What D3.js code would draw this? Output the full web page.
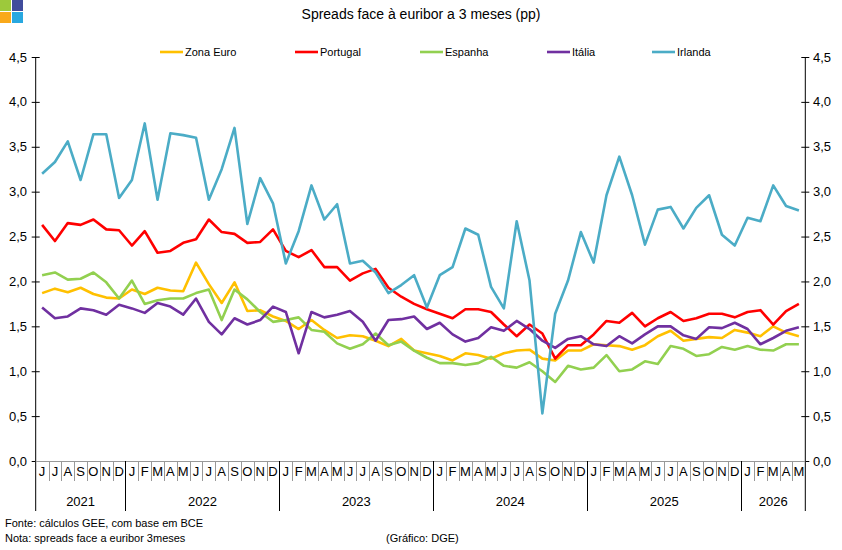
<!DOCTYPE html>
<meta charset="utf-8">
<style>

body {
  margin: 0;
  font: 11px "Liberation Sans", Arial, sans-serif;
  background: #fff;
}

.line {
  fill: none;
  stroke-width: 2.6;
  stroke-linejoin: round;
}

.lbl {
  font-size: 13px;
  fill: #000;
}

</style>
<body>
<script src="https://cdnjs.cloudflare.com/ajax/libs/d3/7.8.5/d3.min.js"></script>
<script>

// meses de Jun 2021 a Mai 2026
var months = ["J","J","A","S","O","N","D",
  "J","F","M","A","M","J","J","A","S","O","N","D",
  "J","F","M","A","M","J","J","A","S","O","N","D",
  "J","F","M","A","M","J","J","A","S","O","N","D",
  "J","F","M","A","M","J","J","A","S","O","N","D",
  "J","F","M","A","M"];

var years = ["2021", "2022", "2023", "2024", "2025", "2026"];
var monthsPerYear = [7, 12, 12, 12, 12, 5];

var yTicks = [0, 0.5, 1, 1.5, 2, 2.5, 3, 3.5, 4, 4.5];

var zonaEuro = [1.87,1.92,1.88,1.93,1.86,1.82,1.81,1.91,1.86,1.93,1.90,1.89,2.21,1.97,1.76,1.99,1.67,1.68,1.61,1.56,
  1.47,1.57,1.46,1.37,1.40,1.39,1.34,1.28,1.36,1.23,1.20,1.17,1.12,1.20,1.18,1.14,1.20,1.23,1.24,1.14,
  1.12,1.23,1.23,1.30,1.29,1.28,1.24,1.29,1.39,1.45,1.34,1.36,1.38,1.37,1.46,1.43,1.39,1.50,1.43,1.39];

var portugal = [2.63,2.45,2.65,2.63,2.69,2.58,2.57,2.40,2.56,2.32,2.34,2.43,2.47,2.69,2.55,2.53,2.43,2.44,2.58,2.34,
  2.27,2.35,2.16,2.16,2.01,2.09,2.14,1.93,1.83,1.75,1.69,1.64,1.59,1.69,1.69,1.66,1.52,1.39,1.52,1.42,
  1.14,1.29,1.29,1.41,1.56,1.54,1.65,1.50,1.59,1.66,1.56,1.59,1.64,1.64,1.60,1.66,1.68,1.52,1.67,1.75];

var espanha = [2.07,2.10,2.02,2.03,2.10,1.99,1.81,2.01,1.75,1.79,1.81,1.81,1.87,1.91,1.57,1.91,1.80,1.66,1.55,1.57,
  1.60,1.46,1.44,1.31,1.25,1.30,1.42,1.29,1.33,1.23,1.15,1.09,1.09,1.07,1.09,1.16,1.06,1.04,1.10,1.00,
  0.88,1.06,1.02,1.04,1.18,1.00,1.02,1.11,1.08,1.28,1.25,1.17,1.19,1.27,1.24,1.28,1.24,1.23,1.30,1.30];

var italia = [1.71,1.59,1.61,1.70,1.68,1.63,1.74,1.70,1.65,1.76,1.72,1.63,1.81,1.55,1.41,1.59,1.52,1.57,1.72,1.66,
  1.20,1.66,1.60,1.63,1.67,1.55,1.34,1.57,1.58,1.61,1.47,1.54,1.41,1.33,1.37,1.49,1.45,1.56,1.47,1.34,
  1.26,1.36,1.39,1.30,1.28,1.39,1.31,1.41,1.50,1.50,1.40,1.36,1.49,1.48,1.54,1.47,1.30,1.37,1.45,1.49];

var irlanda = [3.20,3.33,3.56,3.13,3.64,3.64,2.93,3.13,3.76,2.91,3.65,3.63,3.60,2.91,3.25,3.71,2.64,3.15,2.87,2.20,
  2.56,3.07,2.69,2.86,2.20,2.23,2.10,1.87,1.96,2.07,1.71,2.07,2.16,2.59,2.52,1.94,1.70,2.67,2.01,0.53,
  1.64,2.01,2.55,2.21,2.96,3.39,2.96,2.41,2.80,2.83,2.59,2.82,2.96,2.52,2.40,2.71,2.67,3.07,2.84,2.79];

var seriesNames = ["Zona Euro", "Portugal", "Espanha", "Itália", "Irlanda"];
var seriesColors = ["#FFC000", "#FF0000", "#92D050", "#7030A0", "#4BACC6"];
var seriesValues = [zonaEuro, portugal, espanha, italia, irlanda];

var width = 842, height = 550;
var plotLeft = 35.7, plotRight = 805.3, plotTop = 57, plotBottom = 461;

var svg = d3.select("body").append("svg")
    .attr("width", width)
    .attr("height", height);

// logo
var logo = [["#9DC93B", 0, 0], ["#404C9C", 12, 0], ["#F9A91B", 0, 12], ["#28A8E0", 12, 12]];
svg.selectAll(".logo")
    .data(logo)
  .enter().append("rect")
    .attr("x", function(d) { return d[1] })
    .attr("y", function(d) { return d[2] })
    .attr("width", 11)
    .attr("height", 11)
    .attr("fill", function(d) { return d[0] });

svg.append("text")
    .attr("x", 421)
    .attr("y", 19)
    .attr("text-anchor", "middle")
    .style("font-size", "14px")
    .text("Spreads face à euribor a 3 meses (pp)");

var x = d3.scaleBand()
    .domain(d3.range(months.length))
    .range([plotLeft, plotRight]);

var y = d3.scaleLinear()
    .domain([0, 4.5])
    .range([plotBottom, plotTop]);

var fmt = function(d) { return d3.format(".1f")(d).replace(".", ",") };

// eixos verticais
[plotLeft, plotRight].forEach(function(px, k) {
  svg.append("line")
      .attr("x1", px).attr("x2", px)
      .attr("y1", plotTop).attr("y2", 511)
      .attr("stroke", "#000");

  svg.selectAll(".tick" + k)
      .data(yTicks)
    .enter().append("line")
      .attr("x1", px - 4).attr("x2", px + 4)
      .attr("y1", function(d) { return y(d) + 0.5 })
      .attr("y2", function(d) { return y(d) + 0.5 })
      .attr("stroke", "#000");

  svg.selectAll(".ylab" + k)
      .data(yTicks)
    .enter().append("text")
      .attr("class", "lbl")
      .attr("x", k == 0 ? 27 : 813)
      .attr("y", function(d) { return y(d) })
      .attr("dy", "0.35em")
      .attr("text-anchor", k == 0 ? "end" : "start")
      .text(fmt);
});

// linha do zero
svg.append("line")
    .attr("x1", plotLeft).attr("x2", plotRight)
    .attr("y1", plotBottom + 0.5).attr("y2", plotBottom + 0.5)
    .attr("stroke", "#999");

// divisões dos meses
svg.selectAll(".mdiv")
    .data(d3.range(1, months.length))
  .enter().append("line")
    .attr("x1", function(i) { return Math.round(x(i)) + 0.5 })
    .attr("x2", function(i) { return Math.round(x(i)) + 0.5 })
    .attr("y1", plotBottom)
    .attr("y2", 481)
    .attr("stroke", "#999");

svg.selectAll(".mlab")
    .data(months)
  .enter().append("text")
    .attr("class", "lbl")
    .attr("x", function(d, i) { return x(i) + x.bandwidth() / 2 })
    .attr("y", 476)
    .attr("text-anchor", "middle")
    .text(function(d) { return d });

// anos
var yearStart = [];
monthsPerYear.reduce(function(acc, n) { yearStart.push(acc); return acc + n }, 0);

svg.selectAll(".ydiv")
    .data(yearStart.slice(1))
  .enter().append("line")
    .attr("x1", function(i) { return Math.round(x(i)) + 0.5 })
    .attr("x2", function(i) { return Math.round(x(i)) + 0.5 })
    .attr("y1", plotBottom)
    .attr("y2", 511)
    .attr("stroke", "#000");

svg.selectAll(".ylabel")
    .data(years)
  .enter().append("text")
    .attr("class", "lbl")
    .attr("x", function(d, k) {
      var a = x(yearStart[k]), b = x(yearStart[k] + monthsPerYear[k] - 1) + x.bandwidth();
      return (a + b) / 2;
    })
    .attr("y", 506)
    .attr("text-anchor", "middle")
    .text(function(d) { return d });

// séries
var line = d3.line()
    .x(function(d, i) { return x(i) + x.bandwidth() / 2 })
    .y(function(d) { return y(d) });

svg.selectAll(".line")
    .data(seriesValues)
  .enter().append("path")
    .attr("class", "line")
    .attr("stroke", function(d, k) { return seriesColors[k] })
    .attr("d", line);

// legenda
var legX = [160, 295, 420, 547, 652];
var leg = svg.selectAll(".leg")
    .data(seriesNames)
  .enter().append("g")
    .attr("transform", function(d, k) { return "translate(" + legX[k] + ",52)" });

leg.append("line")
    .attr("x1", 0).attr("x2", 23)
    .attr("stroke", function(d, k) { return seriesColors[k] })
    .attr("stroke-width", 2.6);

leg.append("text")
    .attr("x", 25)
    .attr("dy", "0.35em")
    .text(function(d) { return d });

// notas
svg.append("text").attr("x", 5).attr("y", 527).text("Fonte: cálculos GEE, com base em BCE");
svg.append("text").attr("x", 5).attr("y", 542).text("Nota: spreads face a euribor 3meses");
svg.append("text").attr("x", 386).attr("y", 542).text("(Gráfico: DGE)");

</script>
